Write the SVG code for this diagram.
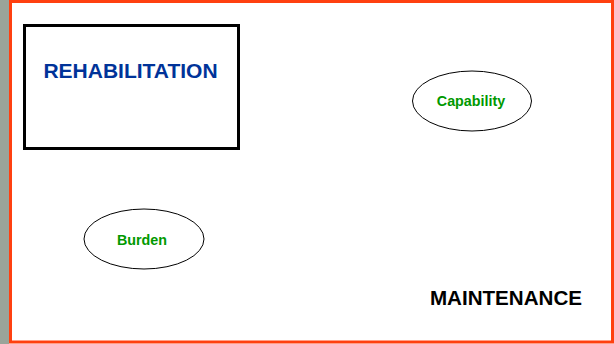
<svg xmlns="http://www.w3.org/2000/svg" width="614" height="344" viewBox="0 0 614 344">
<style>
.lbl{font-family:"Liberation Sans",Arial,sans-serif;font-weight:bold;text-anchor:middle}
.oval{fill:#fff;stroke:#000;stroke-width:1}
.green{fill:#009900;font-size:14.3px}
</style>
<rect x="0" y="0" width="614" height="344" fill="#fff"/>
<rect x="0" y="0" width="9" height="344" fill="#9aa49a"/>
<rect x="10.5" y="1.5" width="602" height="340.5" fill="#fff" stroke="#ff4010" stroke-width="3"/>
<g id="connectors"></g>
<g id="rehabilitation">
<rect x="24.5" y="25.5" width="214" height="123" fill="#fff" stroke="#000" stroke-width="3"/>
<text class="lbl" x="130.5" y="78" font-size="21" fill="#003399">REHABILITATION</text>
</g>
<g id="capability">
<ellipse class="oval" cx="472" cy="101" rx="59.5" ry="30"/>
<text class="lbl green" x="471" y="106">Capability</text>
</g>
<g id="burden">
<ellipse class="oval" cx="144" cy="239" rx="60" ry="30"/>
<text class="lbl green" x="142" y="245">Burden</text>
</g>
<g id="maintenance">
<text class="lbl" x="506" y="305" font-size="20.6" fill="#000">MAINTENANCE</text>
</g>
</svg>
